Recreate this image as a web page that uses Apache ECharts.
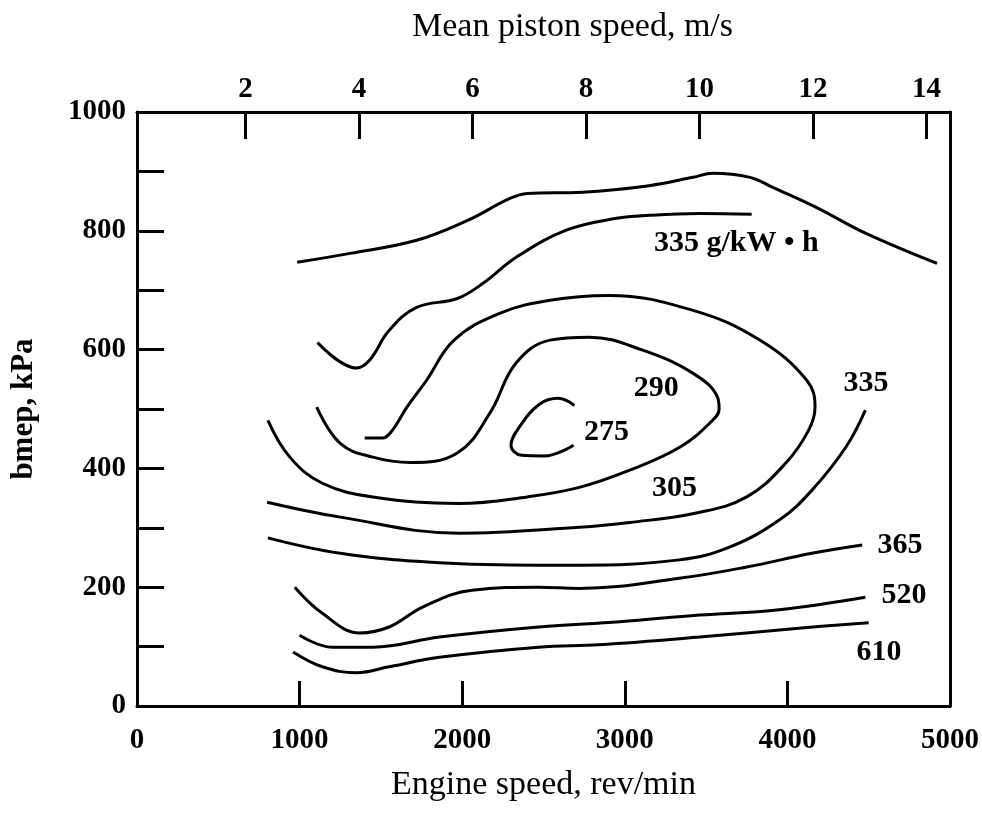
<!DOCTYPE html>
<html>
<head>
<meta charset="utf-8">
<script src="https://cdn.jsdelivr.net/npm/echarts@6/dist/echarts.min.js"></script>
<style>
  html, body { margin: 0; padding: 0; background: #fff; }
  #chart { width: 982px; height: 814px; }
</style>
</head>
<body>
<div id="chart"></div>
<script>
"use strict";
/* Contour lines: [engine speed rev/min, bmep kPa] */
const curveTop = [[985, 747], [1310, 762], [1720, 784], [2030, 817], [2290, 854], [2400, 863], [2740, 865], [3150, 876], [3420, 890], [3540, 897], [3770, 890], [3910, 873], [4180, 839], [4480, 796], [4920, 745]];
const curve335Upper = [[1110, 612], [1350, 569], [1430, 582], [1550, 632], [1720, 671], [1970, 686], [2130, 712], [2330, 755], [2640, 801], [2950, 821], [3150, 826], [3460, 829], [3780, 828]];
const curve305 = [[1400, 451], [1510, 451], [1570, 464], [1660, 503], [1780, 548], [1950, 616], [2230, 661], [2540, 683], [2900, 691], [3420, 666], [3830, 616], [4120, 548], [4170, 503], [4130, 464], [3990, 409], [3750, 352], [3440, 325], [3030, 309], [2720, 301], [1980, 291], [1250, 318], [800, 343]];
const curve290 = [[1105, 503], [1250, 442], [1450, 419], [1680, 410], [1970, 426], [2170, 493], [2330, 577], [2540, 616], [2780, 621], [3110, 599], [3420, 560], [3570, 520], [3580, 500], [3540, 481], [3340, 436], [3030, 397], [2720, 368], [2400, 352], [1980, 341], [1450, 352], [1140, 375], [940, 419], [805, 481]];
const curve275 = [[2690, 506], [2590, 518], [2475, 508], [2350, 469], [2300, 439], [2365, 422], [2505, 421], [2685, 439]];
const curve335Right = [[805, 283], [1250, 257], [1860, 241], [2475, 237], [2720, 237], [3335, 246], [3640, 267], [3950, 313], [4150, 363], [4360, 436], [4480, 498]];
const curve365 = [[970, 200], [1140, 156], [1370, 123], [1550, 133], [1760, 167], [2060, 195], [2470, 200], [2720, 198], [3335, 215], [3750, 234], [4150, 257], [4460, 271]];
const curve520 = [[1000, 119], [1200, 99], [1450, 99], [1860, 116], [2470, 133], [2970, 142], [3460, 153], [3950, 162], [4480, 183]];
const curve610 = [[960, 91], [1140, 66], [1350, 56], [1550, 66], [1860, 82], [2470, 99], [2840, 103], [3460, 116], [4070, 131], [4500, 140]];

/* Contour value labels and where they sit */
const labelTexts = ["335 g/kW \u2022 h", "290", "275", "305", "335", "365", "520", "610"];
const labelX = [3686, 3194, 2887, 3305, 4484, 4693, 4717, 4564];
const labelY = [779, 535, 461, 367, 543, 271, 187, 91];

/* Axes */
const speedMin = 0, speedMax = 5000, speedStep = 1000;
const bmepMin = 0, bmepMax = 1000, bmepStep = 100;
const pistonTicks = [2, 4, 6, 8, 10, 12, 14];
const rpmPerPiston = 349;     // rev/min for 1 m/s mean piston speed
const pistonZeroRpm = -31;    // where 0 m/s falls on the speed scale

const FONT = "Liberation Serif";
const BLACK = "#000";

let chart = echarts.init(document.getElementById("chart"), null, { renderer: "canvas" });

function ContourSeries(data) {
    return {
        type: "line",
        data: data,
        xAxisIndex: 0,
        yAxisIndex: 0,
        smooth: 0.4,
        symbol: "none",
        silent: true,
        lineStyle: { color: BLACK, width: 3 },
        animation: false
    };
}

const contours = [curveTop, curve335Upper, curve305, curve290, curve275, curve335Right, curve365, curve520, curve610];
let series = contours.map(ContourSeries);
series.push({
    type: "scatter",
    xAxisIndex: 0,
    yAxisIndex: 0,
    symbolSize: 0,
    silent: true,
    animation: false,
    itemStyle: { color: BLACK, opacity: 1 },
    data: labelX.map((x, i) => [x, labelY[i], labelTexts[i]]),
    label: {
        show: true,
        position: "inside",
        formatter: (p) => p.data[2],
        fontFamily: FONT,
        fontSize: 30,
        fontWeight: "bold",
        color: BLACK,
        opacity: 1,
        textBorderWidth: 0
    }
});

const tickLabel = { fontFamily: FONT, fontSize: 29, fontWeight: "bold", color: BLACK };
const axisLineStyle = { color: BLACK, width: 3 };

chart.setOption({
    backgroundColor: "#fff",
    animation: false,
    grid: { left: 137, right: 30, top: 112, bottom: 108, containLabel: false },
    xAxis: [{
        type: "value",
        position: "bottom",
        min: speedMin, max: speedMax, interval: speedStep,
        name: "Engine speed, rev/min",
        nameLocation: "middle",
        nameGap: 62,
        nameTextStyle: { fontFamily: FONT, fontSize: 34, color: BLACK },
        axisLine: { show: true, lineStyle: axisLineStyle },
        axisTick: { show: true, inside: true, length: 25, lineStyle: axisLineStyle },
        axisLabel: Object.assign({ margin: 20, formatter: (v) => String(v) }, tickLabel),
        splitLine: { show: false }
    }, {
        type: "value",
        position: "top",
        min: (speedMin - pistonZeroRpm) / rpmPerPiston,
        max: (speedMax - pistonZeroRpm) / rpmPerPiston,
        name: "Mean piston speed, m/s",
        nameLocation: "middle",
        nameGap: 68,
        nameTextStyle: { fontFamily: FONT, fontSize: 34, color: BLACK, padding: [0, 0, 0, 58] },
        axisLine: { show: true, onZero: false, lineStyle: axisLineStyle },
        axisTick: { show: true, inside: true, length: 27, lineStyle: axisLineStyle, customValues: pistonTicks },
        axisLabel: Object.assign({ margin: 8, customValues: pistonTicks }, tickLabel),
        splitLine: { show: false }
    }],
    yAxis: [{
        type: "value",
        position: "left",
        min: bmepMin, max: bmepMax, interval: bmepStep,
        name: "bmep, kPa",
        nameLocation: "middle",
        nameGap: 98,
        nameTextStyle: { fontFamily: FONT, fontSize: 31, fontWeight: "bold", color: BLACK },
        axisLine: { show: true, lineStyle: axisLineStyle },
        axisTick: { show: true, inside: true, length: 27, lineStyle: axisLineStyle },
        axisLabel: Object.assign({ margin: 11, formatter: (v) => (v % 200 === 0 ? String(v) : "") }, tickLabel),
        splitLine: { show: false }
    }, {
        type: "value",
        position: "right",
        min: bmepMin, max: bmepMax,
        axisLine: { show: true, onZero: false, lineStyle: axisLineStyle },
        axisTick: { show: false },
        axisLabel: { show: false },
        splitLine: { show: false }
    }],
    series: series
});
</script>
</body>
</html>
